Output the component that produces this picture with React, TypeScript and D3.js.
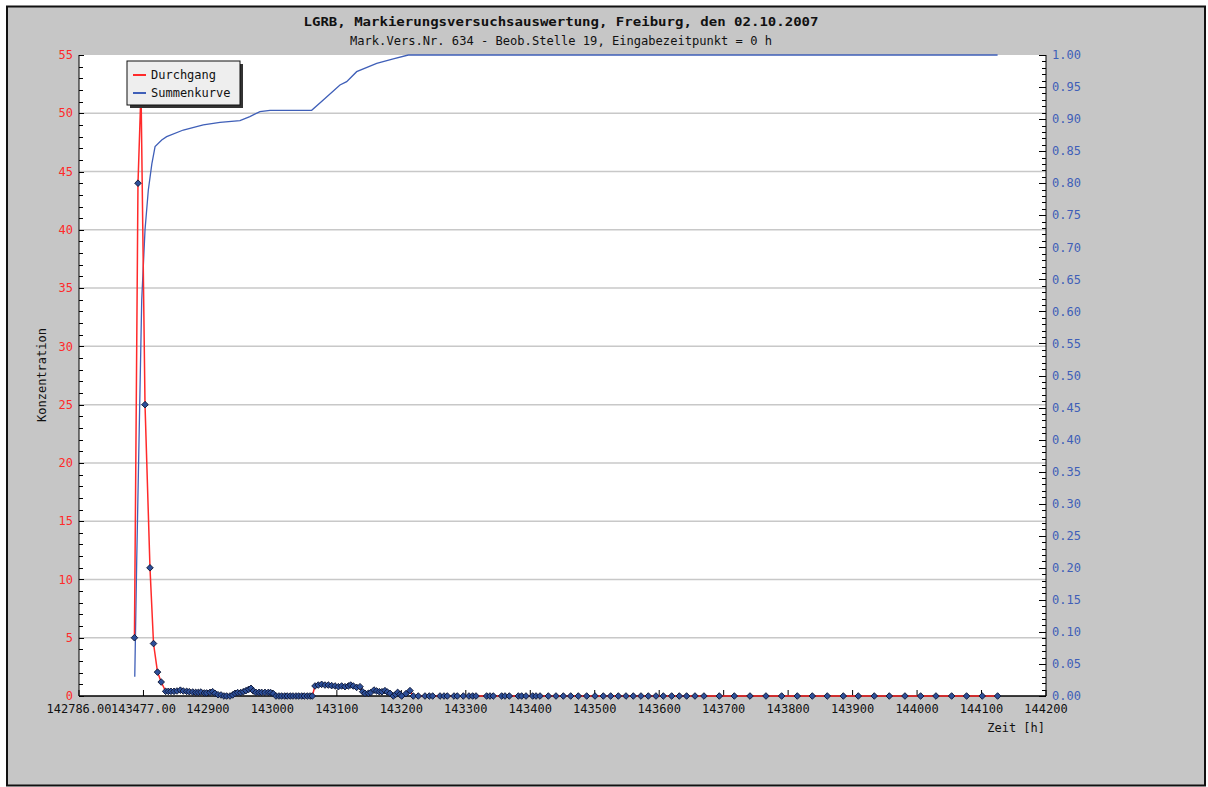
import React from "react";
import * as d3 from "d3";

const titleText = "LGRB, Markierungsversuchsauswertung, Freiburg, den 02.10.2007";
const subtitleText = "Mark.Vers.Nr. 634 - Beob.Stelle 19, Eingabezeitpunkt = 0 h";
const xLabel = "Zeit [h]";
const yLabel = "Konzentration";
const seriesNames = ["Durchgang", "Summenkurve"];

const xTickValues = [142700, 142800, 142900, 143000, 143100, 143200, 143300, 143400, 143500, 143600, 143700, 143800, 143900, 144000, 144100, 144200];
const xTickLabels = ["142786.00", "143477.00", "142900", "143000", "143100", "143200", "143300", "143400", "143500", "143600", "143700", "143800", "143900", "144000", "144100", "144200"];
const leftTicks = [0, 5, 10, 15, 20, 25, 30, 35, 40, 45, 50, 55];
const rightTicks = [0, 0.05, 0.1, 0.15, 0.2, 0.25, 0.3, 0.35, 0.4, 0.45, 0.5, 0.55, 0.6, 0.65, 0.7, 0.75, 0.8, 0.85, 0.9, 0.95, 1.0];

// Durchgang: [time h, concentration]
const durchgang: [number, number][] = [
  [142786, 5], [142791.5, 44], [142796.2, 52], [142802.4, 25], [142810.1, 11], [142815.6, 4.5], [142821.8, 2.05], [142827.5, 1.2],
  [142834.4, 0.4], [142838.6, 0.4], [142842.7, 0.4], [142847.4, 0.4], [142852.0, 0.43], [142857.2, 0.5], [142861.8, 0.43], [142867.0, 0.4],
  [142871.1, 0.37], [142876.3, 0.34], [142881.0, 0.31], [142885.1, 0.31], [142889.2, 0.34], [142894.4, 0.26], [142898.0, 0.26], [142903.2, 0.31],
  [142907.3, 0.37], [142910.9, 0.23], [142915.6, 0.11], [142920.3, 0.09], [142924.9, 0], [142929.0, 0], [142934.2, 0], [142938.4, 0.09],
  [142942.0, 0.23], [142946.1, 0.29], [142950.8, 0.29], [142954.9, 0.37], [142959.0, 0.46], [142963.2, 0.57], [142966.8, 0.66], [142970.4, 0.43],
  [142974.5, 0.31], [142979.2, 0.31], [142983.3, 0.31], [142988.5, 0.31], [142993.7, 0.31], [142997.3, 0.29], [143001.4, 0.2], [143005.6, 0],
  [143010.2, 0], [143014.3, 0], [143019.0, 0], [143023.1, 0], [143027.8, 0], [143031.9, 0], [143036.6, 0], [143040.7, 0],
  [143045.4, 0], [143049.5, 0], [143054.2, 0], [143058.3, 0], [143061.9, 0],
  [143066.1, 0.86], [143071.2, 0.94], [143076.4, 1.0], [143081.6, 0.94], [143086.8, 0.94], [143091.9, 0.89], [143097.1, 0.86], [143102.3, 0.8],
  [143107.4, 0.86], [143112.6, 0.8], [143117.8, 0.86], [143121.4, 0.94], [143125.5, 0.86], [143130.7, 0.74], [143135.9, 0.8], [143140.0, 0.37],
  [143143.6, 0.23], [143148.8, 0.23], [143152.4, 0.29], [143157.6, 0.51], [143161.7, 0.43], [143165.9, 0.37], [143170.0, 0.37], [143174.6, 0.46],
  [143178.3, 0.34], [143182.4, 0.23], [143187.6, 0], [143191.2, 0.14], [143194.3, 0.31], [143197.9, 0.14], [143200.5, 0], [143207.2, 0.2],
  [143213.4, 0.46], [143218.6, 0],
  [143226.3, 0], [143236.7, 0], [143243.4, 0], [143248.6, 0], [143260.0, 0], [143266.2, 0], [143271.3, 0], [143281.7, 0],
  [143286.8, 0], [143296.1, 0], [143304.9, 0], [143310.6, 0], [143315.8, 0], [143332.3, 0], [143337.5, 0], [143342.7, 0],
  [143355.6, 0], [143360.8, 0], [143367.5, 0], [143381.5, 0], [143386.6, 0], [143393.4, 0], [143403.7, 0], [143408.9, 0],
  [143415.1, 0], [143428.0, 0], [143439.9, 0], [143451.3, 0], [143462.7, 0], [143474.5, 0], [143487.5, 0], [143500.4, 0],
  [143513.3, 0], [143524.7, 0], [143536.6, 0], [143548.5, 0], [143559.8, 0], [143571.7, 0], [143583.1, 0], [143595.0, 0],
  [143606.4, 0], [143619.3, 0], [143631.2, 0], [143642.5, 0], [143655.5, 0], [143669.4, 0], [143693.2, 0], [143716.5, 0],
  [143740.8, 0], [143765.6, 0], [143789.9, 0], [143814.2, 0], [143837.5, 0], [143860.7, 0], [143885.6, 0], [143908.8, 0],
  [143933.6, 0], [143956.9, 0], [143981.2, 0], [144005.5, 0], [144029.3, 0], [144053.6, 0], [144076.8, 0], [144101.1, 0],
  [144124.9, 0],
];

// Summenkurve: [time h, cumulative fraction]
const summenkurve: [number, number][] = [
  [142786.5, 0.03], [142789.5, 0.21], [142797.3, 0.618], [142802.4, 0.727], [142807.5, 0.789], [142813, 0.83], [142818, 0.857],
  [142828.3, 0.8674], [142836, 0.8726], [142861.8, 0.883], [142892.8, 0.891], [142918.7, 0.895], [142949.7, 0.8977], [142965, 0.904],
  [142980.7, 0.9116], [142996.3, 0.9137], [143060.9, 0.9137], [143078.9, 0.9298], [143104.8, 0.9532], [143115.2, 0.9584],
  [143130.7, 0.974], [143161.8, 0.987], [143187.5, 0.9938], [143210.8, 1.0], [144124.9, 1.0],
];

const W = 1208;
const H = 787;
const M = { left: 79, right: 1046, top: 55, bottom: 696 };
const FONT = "'DejaVu Sans Mono', monospace";
const RED = "#ff2a2a";
const BLUE = "#3f5fb8";

export default function App() {
  const x = d3.scaleLinear().domain([142700, 144200]).range([M.left, M.right]);
  const yL = d3.scaleLinear().domain([0, 55]).range([M.bottom, M.top]);
  const yR = d3.scaleLinear().domain([0, 1]).range([M.bottom, M.top]);

  const lineD = d3.line<[number, number]>().x((d) => x(d[0])).y((d) => yL(d[1]))(durchgang) || "";
  const lineS = d3.line<[number, number]>().x((d) => x(d[0])).y((d) => yR(d[1]))(summenkurve) || "";

  const leftMinor = d3.range(0, 56, 1);
  const rightMinor = d3.range(0, 101, 1).map((v) => v / 100);

  return (
    <svg width={W} height={H} style={{ position: "absolute", left: 0, top: 0, display: "block" }} xmlns="http://www.w3.org/2000/svg">
      <rect x={0} y={0} width={W} height={H} fill="#ffffff" />
      <rect x={7} y={6.5} width={1198} height={779} fill="#c6c6c6" stroke="#111" strokeWidth={2} />
      <rect x={M.left} y={M.top} width={M.right - M.left} height={M.bottom - M.top} fill="#ffffff" />

      {/* gridlines */}
      {leftTicks.filter((t) => t > 0 && t < 55).map((t) => (
        <line key={"g" + t} x1={M.left} x2={M.right} y1={yL(t)} y2={yL(t)} stroke="#c8c8c8" strokeWidth={1.5} />
      ))}

      {/* titles */}
      <text x={561} y={26} textAnchor="middle" fontFamily={FONT} fontWeight="bold" fontSize={13} fill="#111" textLength={515} lengthAdjust="spacingAndGlyphs">{titleText}</text>
      <text x={561} y={45} textAnchor="middle" fontFamily={FONT} fontSize={12} fill="#111" textLength={422} lengthAdjust="spacingAndGlyphs">{subtitleText}</text>

      {/* axes lines */}
      <line x1={M.left} x2={M.left} y1={M.top} y2={M.bottom} stroke="#000" strokeWidth={1} />
      <line x1={M.right} x2={M.right} y1={M.top} y2={M.bottom} stroke="#000" strokeWidth={1} />
      <line x1={M.left} x2={M.right} y1={M.bottom} y2={M.bottom} stroke="#000" strokeWidth={1.3} />

      {/* left minor ticks */}
      {leftMinor.map((t) => (
        <line key={"lm" + t} x1={M.left} x2={M.left + (t % 5 === 0 ? 5 : 4)} y1={Math.round(yL(t)) + 0.5} y2={Math.round(yL(t)) + 0.5} stroke="#000" strokeWidth={1} />
      ))}
      {/* right minor ticks */}
      {rightMinor.map((t, i) => (
        <line key={"rm" + i} x1={M.right} x2={M.right - (i % 5 === 0 ? 7 : 4)} y1={Math.round(yR(t)) + 0.5} y2={Math.round(yR(t)) + 0.5} stroke="#000" strokeWidth={1} />
      ))}
      {/* x ticks */}
      {xTickValues.map((t) => (
        <line key={"xt" + t} x1={x(t)} x2={x(t)} y1={M.bottom} y2={M.bottom - 6} stroke="#000" strokeWidth={1} />
      ))}

      {/* left labels */}
      {leftTicks.map((t) => (
        <text key={"ll" + t} x={73} y={yL(t)} dy="0.35em" textAnchor="end" fontFamily={FONT} fontSize={12} fill={RED}>{t}</text>
      ))}
      {/* right labels */}
      {rightTicks.map((t, i) => (
        <text key={"rl" + i} x={1052} y={yR(t)} dy="0.35em" textAnchor="start" fontFamily={FONT} fontSize={12} fill={BLUE}>{t.toFixed(2)}</text>
      ))}
      {/* x labels */}
      {xTickValues.map((t, i) => (
        <text key={"xl" + t} x={x(t)} y={713} textAnchor="middle" fontFamily={FONT} fontSize={12} fill="#111">{xTickLabels[i]}</text>
      ))}

      <text x={1045} y={732} textAnchor="end" fontFamily={FONT} fontSize={12} fill="#111">{xLabel}</text>
      <text transform={`translate(46,375) rotate(-90)`} textAnchor="middle" fontFamily={FONT} fontSize={12} fill="#111">{yLabel}</text>

      {/* series */}
      <path d={lineS} fill="none" stroke={BLUE} strokeWidth={1.3} />
      <path d={lineD} fill="none" stroke={RED} strokeWidth={1.5} />
      {durchgang.map((d, i) => {
        const cx = x(d[0]);
        const cy = yL(d[1]);
        const r = 3.3;
        return (
          <path key={"m" + i} d={`M${cx},${cy - r}L${cx + r},${cy}L${cx},${cy + r}L${cx - r},${cy}Z`} fill="#2d4f99" stroke="#0b1433" strokeWidth={0.9} />
        );
      })}

      {/* legend */}
      <rect x={130} y={64} width={113} height={44} fill="#333" />
      <rect x={127} y={61} width={113} height={44} fill="#eeeeee" stroke="#111" strokeWidth={1} />
      <line x1={133} x2={146} y1={75} y2={75} stroke={RED} strokeWidth={2} />
      <text x={151} y={79} fontFamily={FONT} fontSize={12} fill="#111">{seriesNames[0]}</text>
      <line x1={133} x2={146} y1={93} y2={93} stroke={BLUE} strokeWidth={2} />
      <text x={151} y={97} fontFamily={FONT} fontSize={12} fill="#111">{seriesNames[1]}</text>
    </svg>
  );
}
